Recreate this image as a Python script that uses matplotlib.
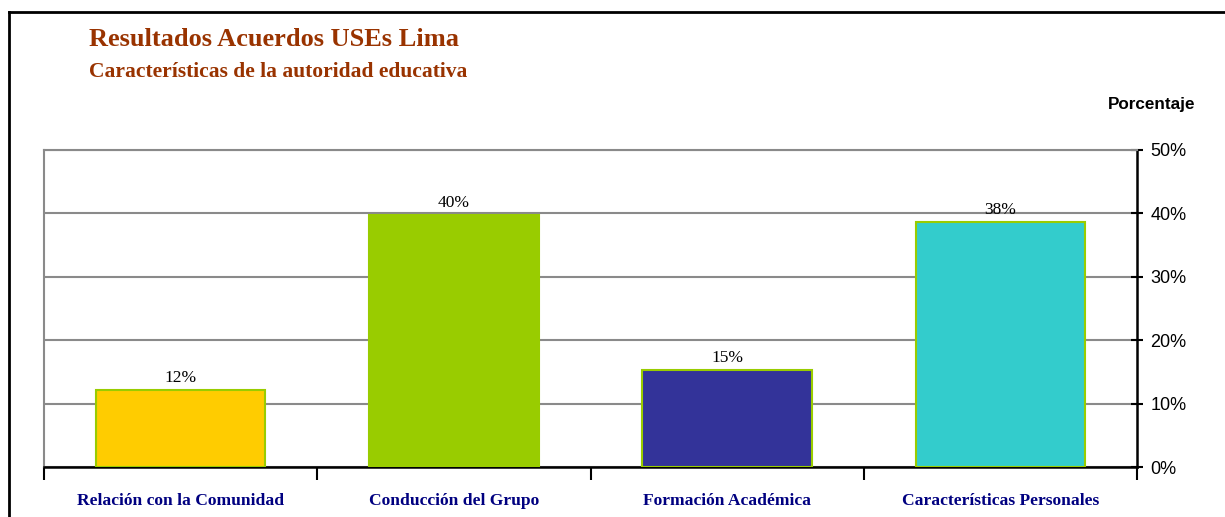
import matplotlib
matplotlib.use('Agg')
import matplotlib.pyplot as plt
from matplotlib.lines import Line2D
import numpy as np

categories = ['Relación con la Comunidad', 'Conducción del Grupo',
              'Formación Académica', 'Características Personales']
values     = [12.1, 39.7, 15.3, 38.6]
val_labels = ['12%', '40%', '15%', '38%']
colors     = ['#FFCC00', '#99CC00', '#333399', '#33CCCC']
yticks     = [0, 10, 20, 30, 40, 50]

W, H = 1225, 517
fig = plt.figure(figsize=(W / 100, H / 100), dpi=100)

# outer frame (cut off at right and bottom)
fig.add_artist(Line2D([9 / W, 1.0], [1 - 12 / H, 1 - 12 / H], color='black', lw=2))
fig.add_artist(Line2D([9 / W, 9 / W], [1 - 12 / H, 0.0], color='black', lw=2))

x0, x1, ytop, ybot = 44, 1137, 150, 467
ax = fig.add_axes([x0 / W, 1 - ybot / H, (x1 - x0) / W, (ybot - ytop) / H])

x = np.arange(len(categories))
ax.bar(x, values, width=0.62, color=colors, edgecolor='#99CC00', linewidth=1.5, zorder=3)
for xi, v, lab in zip(x, values, val_labels):
    ax.text(xi, v + 0.7, lab, ha='center', va='bottom', fontsize=12.5,
            family='Liberation Serif', color='black', zorder=4)

ax.set_xlim(-0.5, len(categories) - 0.5)
ax.set_ylim(0, 50)

ax.yaxis.tick_right()
ax.set_yticks(yticks)
ax.set_yticklabels([f'{t}%' for t in yticks], family='Liberation Sans', fontsize=13)
ax.tick_params(axis='y', direction='inout', length=9, width=1.5, pad=5)
ax.grid(axis='y', color='#8a8a8a', lw=1.5, zorder=0)

ax.set_xticks(np.arange(-0.5, len(categories)))
ax.set_xticklabels([])
ax.set_xticks(x, minor=True)
ax.set_xticklabels(categories, minor=True, family='Liberation Serif', fontsize=12.6,
                   fontweight='bold', color='#000080')
ax.tick_params(axis='x', which='major', direction='out', length=9, width=1.5)
ax.tick_params(axis='x', which='minor', length=0, pad=19)

for s in ['left', 'top']:
    ax.spines[s].set_color('#8a8a8a')
    ax.spines[s].set_linewidth(1.5)
for s in ['right', 'bottom']:
    ax.spines[s].set_color('black')
    ax.spines[s].set_linewidth(1.8)

fig.text(89 / W, 1 - 39 / H, 'Resultados Acuerdos USEs Lima', family='Liberation Serif',
         fontsize=19, fontweight='bold', color='#993300', va='center')
fig.text(89 / W, 1 - 72 / H, 'Características de la autoridad educativa', family='Liberation Serif',
         fontsize=15.5, fontweight='bold', color='#993300', va='center')
fig.text(1195 / W, 1 - 104 / H, 'Porcentaje', family='Liberation Sans', fontsize=12.3,
         fontweight='bold', color='black', va='center', ha='right')

fig.savefig('out.png', dpi=100)
